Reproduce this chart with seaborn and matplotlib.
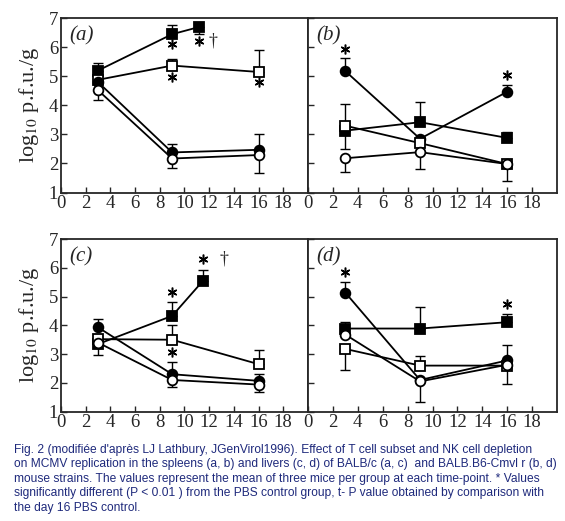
import numpy as np
import pandas as pd
import matplotlib
matplotlib.use("Agg")
import matplotlib.pyplot as plt
import seaborn as sns

# ---- Style ----
sns.set_style("ticks")
plt.rcParams["font.family"] = ["Liberation Serif", "DejaVu Serif"]
plt.rcParams["mathtext.fontset"] = "stix"

nan = np.nan
DAYS = [3, 9, 16]

# ---- Panel (a): spleen, BALB/c ----
a_fsq_x = [3, 9, 11.2]
a_fsq = [5.2, 6.45, 6.7]
a_fsq_err = [5.47, 6.77, 6.45]
a_osq = [4.88, 5.37, 5.15]
a_osq_err = [nan, 5.6, 5.9]
a_fci = [4.8, 2.38, 2.47]
a_fci_err = [nan, 2.67, 3.0]
a_oci = [4.52, 2.17, 2.29]
a_oci_err = [4.18, 1.86, 1.67]

# ---- Panel (b): spleen, BALB.B6-Cmv1r ----
b_fci = [5.18, 2.85, 4.47]
b_fci_err = [5.64, nan, 4.7]
b_fsq = [3.13, 3.42, 2.88]
b_fsq_err = [2.5, 4.1, 3.08]
b_osq = [3.3, 2.7, 1.98]
b_osq_err = [4.06, nan, 1.38]
b_oci = [2.18, 2.39, 1.98]
b_oci_err = [1.72, 1.82, nan]

# ---- Panel (c): liver, BALB/c ----
c_fsq_x = [3, 9, 11.5]
c_fsq = [3.35, 4.33, 5.55]
c_fsq_err = [2.98, 4.8, 5.93]
c_osq = [3.52, 3.5, 2.65]
c_osq_err = [nan, 4.0, 3.14]
c_fci = [3.93, 2.3, 2.07]
c_fci_err = [4.22, 2.71, 2.3]
c_oci = [3.4, 2.1, 1.94]
c_oci_err = [nan, 1.84, 1.67]

# ---- Panel (d): liver, BALB.B6-Cmv1r ----
d_fci = [5.14, 2.1, 2.78]
d_fci_err = [5.5, nan, 3.3]
d_fsq = [3.89, 3.89, 4.11]
d_fsq_err = [4.1, 4.63, 4.38]
d_osq = [3.18, 2.6, 2.6]
d_osq_err = [2.45, 2.92, 1.95]
d_oci = [3.68, 2.05, 2.63]
d_oci_err = [nan, 1.33, nan]

# significance marks (asterisks) and daggers
a_stars_x = [9, 11.2, 9, 16]
a_stars_y = [6.1, 6.2, 4.98, 4.8]
b_stars_x = [3, 16]
b_stars_y = [5.95, 5.03]
c_stars_x = [9, 11.5, 9]
c_stars_y = [5.15, 6.3, 3.06]
d_stars_x = [3, 16]
d_stars_y = [5.86, 4.73]
a_dagger = (12.3, 6.2)
c_dagger = (13.2, 6.3)

STYLES = {
    "fsq": dict(marker="s", face="black"),
    "osq": dict(marker="s", face="white"),
    "fci": dict(marker="o", face="black"),
    "oci": dict(marker="o", face="white"),
}

CAPTION = ("Fig. 2 (modifiée d'après LJ Lathbury, JGenVirol1996). Effect of T cell subset and NK cell depletion\n"
           "on MCMV replication in the spleens (a, b) and livers (c, d) of BALB/c (a, c)  and BALB.B6-Cmvl r (b, d)\n"
           "mouse strains. The values represent the mean of three mice per group at each time-point. * Values\n"
           "significantly different (P < 0.01 ) from the PBS control group, t- P value obtained by comparison with\n"
           "the day 16 PBS control.")


def draw_series(ax, key, x, y, err):
    st = STYLES[key]
    x = np.array(x, dtype=float)
    y = np.array(y, dtype=float)
    err = np.array(err, dtype=float)
    lo = np.where(err < y, y - err, 0)
    hi = np.where(err > y, err - y, 0)
    ok = ~np.isnan(err)
    ax.errorbar(x[ok], y[ok], yerr=[lo[ok], hi[ok]], fmt="none", ecolor="black",
                elinewidth=1.0, capsize=3.5, capthick=1.0, zorder=2)
    df = pd.DataFrame({"day": x, "val": y})
    sns.lineplot(data=df, x="day", y="val", ax=ax, color="black", linewidth=1.3,
                 sort=False, marker=st["marker"], markersize=7,
                 markerfacecolor=st["face"], markeredgecolor="black",
                 markeredgewidth=1.3, zorder=3)


fig = plt.figure(figsize=(5.65, 5.21), dpi=100)
boxes = {
    "a": [0.108, 0.6305, 0.437, 0.3345],
    "b": [0.545, 0.6305, 0.441, 0.3345],
    "c": [0.108, 0.2100, 0.437, 0.3310],
    "d": [0.545, 0.2100, 0.441, 0.3310],
}

panels = {
    "a": [("fsq", a_fsq_x, a_fsq, a_fsq_err), ("osq", DAYS, a_osq, a_osq_err),
          ("fci", DAYS, a_fci, a_fci_err), ("oci", DAYS, a_oci, a_oci_err)],
    "b": [("fci", DAYS, b_fci, b_fci_err), ("fsq", DAYS, b_fsq, b_fsq_err),
          ("osq", DAYS, b_osq, b_osq_err), ("oci", DAYS, b_oci, b_oci_err)],
    "c": [("fsq", c_fsq_x, c_fsq, c_fsq_err), ("osq", DAYS, c_osq, c_osq_err),
          ("fci", DAYS, c_fci, c_fci_err), ("oci", DAYS, c_oci, c_oci_err)],
    "d": [("fci", DAYS, d_fci, d_fci_err), ("fsq", DAYS, d_fsq, d_fsq_err),
          ("osq", DAYS, d_osq, d_osq_err), ("oci", DAYS, d_oci, d_oci_err)],
}
stars = {"a": (a_stars_x, a_stars_y), "b": (b_stars_x, b_stars_y),
         "c": (c_stars_x, c_stars_y), "d": (d_stars_x, d_stars_y)}
daggers = {"a": a_dagger, "c": c_dagger}

for name, box in boxes.items():
    ax = fig.add_axes(box)
    for key, x, y, err in panels[name]:
        draw_series(ax, key, x, y, err)
    sx, sy = stars[name]
    ax.plot(sx, sy, linestyle="none", marker=(6, 2, 0), markersize=7,
            markeredgewidth=1.1, color="black", zorder=4)
    if name in daggers:
        dx, dy = daggers[name]
        ax.text(dx, dy, "†", ha="center", va="center", fontsize=13)
    ax.set_xlim(0, 20)
    ax.set_ylim(1, 7)
    ax.set_xticks(range(0, 20, 2))
    ax.set_xticklabels([str(v) for v in range(0, 20, 2)])
    ax.set_yticks(range(1, 8))
    ax.tick_params(direction="in", length=4, width=1.0, labelsize=13.5, pad=2)
    ax.set_xlabel("")
    ax.set_ylabel("")
    for sp in ax.spines.values():
        sp.set_linewidth(1.3)
    if name in ("b", "d"):
        ax.set_yticklabels([])
    else:
        ax.set_ylabel(r"log$_{10}$ p.f.u./g", fontsize=16, labelpad=6)
    ax.text(0.035, 0.955, f"({name})", transform=ax.transAxes, ha="left", va="top",
            fontsize=15, style="italic")

fig.text(0.025, 0.148, CAPTION, ha="left", va="top", fontsize=8.65, color="#1f2a7c",
         family=["Liberation Sans", "DejaVu Sans"], linespacing=1.27)

fig.savefig("out.png", dpi=100)
